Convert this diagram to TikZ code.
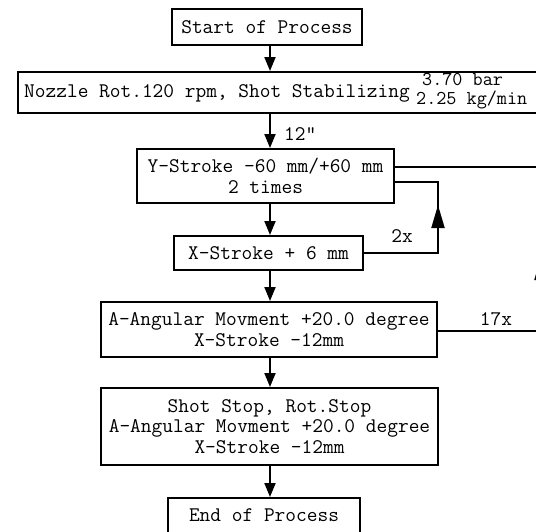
\documentclass[tikz,border=0pt]{standalone}
\usepackage{fontspec}
\usetikzlibrary{arrows.meta}
\newcommand{\twfont}{\ttfamily\fontsize{20.8}{20.5}\selectfont\addfontfeatures{FakeBold=1.2}}
\newcommand{\twsmall}{\ttfamily\fontsize{19.6}{19.6}\selectfont\addfontfeatures{FakeBold=1.2}}
\begin{document}
\begin{tikzpicture}[x=1pt,y=-1pt,
  every node/.style={font=\twfont, inner sep=0pt},
  box/.style={draw, line width=2pt, rectangle, align=center},
  conn/.style={line width=2pt},
  flow/.style={conn, -{Triangle[length=14pt,width=11pt]}},
  loopar/.style={conn, -{Triangle[length=23pt,width=13pt]}},
  lbl/.style={font=\twfont},
  stack/.style={font=\twsmall}]
\useasboundingbox (0,0) rectangle (536,531);
\clip (0,0) rectangle (536,531);
% boxes
\node[box, minimum width=190pt, minimum height=36pt] (start) at (267,27) {Start of Process};
\node[box, minimum width=533pt, minimum height=41pt, anchor=north west] (noz) at (17,71) {};
\node[anchor=base west] (nozt) at (24,97) {Nozzle Rot.120 rpm, Shot Stabilizing};
\node[stack, anchor=base west] (noza) at (422,85) {3.70 bar};
\node[stack, anchor=base west] (nozb) at (416,104) {2.25 kg/min};
\node[box, minimum width=257pt, minimum height=54pt] (ybox) at (265.5,176) {Y-Stroke -60 mm/+60 mm\\2 times};
\node[box, minimum width=189pt, minimum height=34pt] (xbox) at (268.5,253) {X-Stroke + 6 mm};
\node[box, minimum width=336pt, minimum height=55pt] (abox) at (269,329.5) {A-Angular Movment +20.0 degree\\X-Stroke -12mm};
\node[box, minimum width=337pt, minimum height=77pt] (sbox) at (269.5,426.5) {Shot Stop, Rot.Stop\\A-Angular Movment +20.0 degree\\X-Stroke -12mm};
\node[box, minimum width=192pt, inner ysep=10pt, text height=13pt, text depth=20pt, anchor=north] (ebox) at (264,497) {End of Process};
% spine
\coordinate (sp) at (270,0);
\draw[flow] (start.south -| sp) -- (noz.north -| sp);
\draw[flow] (noz.south -| sp) -- (ybox.north -| sp);
\node[lbl, anchor=base west] (t12) at (284,140) {12"};
\draw[flow] (ybox.south -| sp) -- (xbox.north -| sp);
\draw[flow] (xbox.south -| sp) -- (abox.north -| sp);
\draw[flow] (abox.south -| sp) -- (sbox.north -| sp);
\draw[flow] (sbox.south -| sp) -- (ebox.north -| sp);
% small loop
\coordinate (l1) at (438,253);
\coordinate (l2) at (438,182);
\coordinate (l1t) at (438,205);
\draw[conn] (xbox.east) -- (l1) -- (l2) -- (ybox.east |- l2);
\draw[loopar] (l1) -- (l1t);
\node[lbl, anchor=base] (t2x) at (402,242) {2x};
% big loop
\coordinate (b1) at (541,331);
\coordinate (b2) at (541,167);
\coordinate (b1t) at (541,257);
\draw[conn] (abox.east |- b1) -- (b1) -- (b2) -- (ybox.east |- b2);
\draw[loopar] (b1) -- (b1t);
\node[lbl, anchor=base] (t17x) at (496,325) {17x};
\end{tikzpicture}
\end{document}
